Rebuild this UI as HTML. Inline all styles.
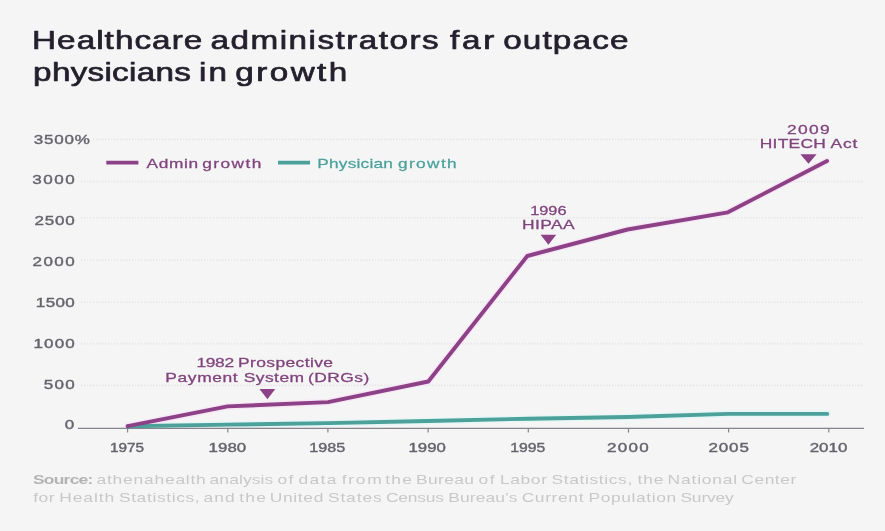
<!DOCTYPE html>
<html lang="en">
<head>
<meta charset="utf-8">
<title>Healthcare administrators far outpace physicians in growth</title>
<style>
html,body{margin:0;padding:0;background:#f5f5f6;}
body{width:885px;height:531px;overflow:hidden;font-family:"Liberation Sans",sans-serif;}
svg{display:block;}
text{font-family:"Liberation Sans",sans-serif;white-space:pre;}
.t{stroke:#231f2d;stroke-width:.68px;stroke-linejoin:round;}
.a{stroke:#66636d;stroke-width:.4px;}
.lp{stroke:#82447e;stroke-width:.3px;}
.lt{stroke:#4ca19b;stroke-width:.25px;}
</style>
</head>
<body>
<svg width="885" height="531" viewBox="0 0 885 531" role="img" aria-label="Healthcare administrators far outpace physicians in growth">
<rect width="885" height="531" fill="#f5f5f6"/>
<text class="t" transform="translate(0 48.9) scale(1.2800 1)" font-size="26" fill="#231f2d"><tspan x="25.03" letter-spacing="0.81">Healthcare</tspan> <tspan x="164.52" letter-spacing="1.15">administrators</tspan> <tspan x="351.63" letter-spacing="2.09">far</tspan> <tspan x="393.1" letter-spacing="0.89">outpace</tspan></text>
<text class="t" transform="translate(0 80.6) scale(1.2800 1)" font-size="26" fill="#231f2d"><tspan x="25.88" letter-spacing="0.2">physicians</tspan> <tspan x="155.42" letter-spacing="1.77">in</tspan> <tspan x="183.88" letter-spacing="1.87">growth</tspan></text>
<line x1="93" y1="139.4" x2="759" y2="139.4" stroke="#e5e5e7" stroke-width="1.6" stroke-dasharray="1.3 1.7"/>
<line x1="81" y1="181.6" x2="864" y2="181.6" stroke="#e5e5e7" stroke-width="1.6" stroke-dasharray="1.3 1.7"/>
<line x1="81" y1="217.7" x2="864" y2="217.7" stroke="#e5e5e7" stroke-width="1.6" stroke-dasharray="1.3 1.7"/>
<line x1="81" y1="260.3" x2="864" y2="260.3" stroke="#e5e5e7" stroke-width="1.6" stroke-dasharray="1.3 1.7"/>
<line x1="81" y1="302.2" x2="864" y2="302.2" stroke="#e5e5e7" stroke-width="1.6" stroke-dasharray="1.3 1.7"/>
<line x1="81" y1="343.6" x2="864" y2="343.6" stroke="#e5e5e7" stroke-width="1.6" stroke-dasharray="1.3 1.7"/>
<line x1="81" y1="385.4" x2="864" y2="385.4" stroke="#e5e5e7" stroke-width="1.6" stroke-dasharray="1.3 1.7"/>
<text class="a" transform="translate(0 143.9) scale(1.3000 1)" font-size="13.1" fill="#66636d"><tspan x="25.89" letter-spacing="0.63">3500%</tspan></text>
<text class="a" transform="translate(0 184.4) scale(1.3000 1)" font-size="13.1" fill="#66636d"><tspan x="24.74" letter-spacing="1.21">3000</tspan></text>
<text class="a" transform="translate(0 225) scale(1.3000 1)" font-size="13.1" fill="#66636d"><tspan x="26.5" letter-spacing="0.63">2500</tspan></text>
<text class="a" transform="translate(0 266.2) scale(1.3000 1)" font-size="13.1" fill="#66636d"><tspan x="24.96" letter-spacing="1.14">2000</tspan></text>
<text class="a" transform="translate(0 307) scale(1.3000 1)" font-size="13.1" fill="#66636d"><tspan x="27.56" letter-spacing="0.27">1500</tspan></text>
<text class="a" transform="translate(0 348) scale(1.3000 1)" font-size="13.1" fill="#66636d"><tspan x="25.79" letter-spacing="0.86">1000</tspan></text>
<text class="a" transform="translate(0 388.6) scale(1.3000 1)" font-size="13.1" fill="#66636d"><tspan x="33.71" letter-spacing="0.97">500</tspan></text>
<text class="a" transform="translate(0 429.3) scale(1.3000 1)" font-size="13.1" fill="#66636d"><tspan x="49.74">0</tspan></text>
<polyline points="127.7,426.2 228,424.6 328,423.1 428,421 528,418.7 628,417 728,413.9 827.3,413.9" fill="none" stroke="#e4f6f5" stroke-width="6.6" stroke-linecap="round" stroke-linejoin="round"/>
<polyline points="127.7,426.2 227.6,406.4 328,402.1 428.3,381.5 527.3,256 627.5,229.5 727.9,212.3 827,161" fill="none" stroke="#f7e6f5" stroke-width="6.6" stroke-linecap="round" stroke-linejoin="round"/>
<line x1="78" y1="428.4" x2="864" y2="428.4" stroke="#86838b" stroke-width="1.2"/>
<line x1="127.6" y1="428" x2="127.6" y2="432.6" stroke="#86838b" stroke-width="1.2"/>
<line x1="227.8" y1="428" x2="227.8" y2="432.6" stroke="#86838b" stroke-width="1.2"/>
<line x1="327.9" y1="428" x2="327.9" y2="432.6" stroke="#86838b" stroke-width="1.2"/>
<line x1="428.1" y1="428" x2="428.1" y2="432.6" stroke="#86838b" stroke-width="1.2"/>
<line x1="528.3" y1="428" x2="528.3" y2="432.6" stroke="#86838b" stroke-width="1.2"/>
<line x1="628.5" y1="428" x2="628.5" y2="432.6" stroke="#86838b" stroke-width="1.2"/>
<line x1="728.6" y1="428" x2="728.6" y2="432.6" stroke="#86838b" stroke-width="1.2"/>
<line x1="828.8" y1="428" x2="828.8" y2="432.6" stroke="#86838b" stroke-width="1.2"/>
<text class="a" transform="translate(0 451.8) scale(1.1736 1)" font-size="13.1" fill="#66636d"><tspan x="93.69">1975</tspan></text>
<text class="a" transform="translate(0 451.8) scale(1.2879 1)" font-size="13.1" fill="#66636d"><tspan x="161.99">1980</tspan></text>
<text class="a" transform="translate(0 451.8) scale(1.2351 1)" font-size="13.1" fill="#66636d"><tspan x="250.49">1985</tspan></text>
<text class="a" transform="translate(0 451.8) scale(1.2807 1)" font-size="13.1" fill="#66636d"><tspan x="319">1990</tspan></text>
<text class="a" transform="translate(0 451.8) scale(1.2025 1)" font-size="13.1" fill="#66636d"><tspan x="424.37">1995</tspan></text>
<text class="a" transform="translate(0 451.8) scale(1.3000 1)" font-size="13.1" fill="#66636d"><tspan x="466.88" letter-spacing="0.98">2000</tspan></text>
<text class="a" transform="translate(0 451.8) scale(1.3000 1)" font-size="13.1" fill="#66636d"><tspan x="544.96" letter-spacing="0.66">2005</tspan></text>
<text class="a" transform="translate(0 451.8) scale(1.2907 1)" font-size="13.1" fill="#66636d"><tspan x="627.36">2010</tspan></text>
<polyline points="127.7,426.2 228,424.6 328,423.1 428,421 528,418.7 628,417 728,413.9 827.3,413.9" fill="none" stroke="#4ca19b" stroke-width="3.9" stroke-linecap="round" stroke-linejoin="round"/>
<polyline points="127.7,426.2 227.6,406.4 328,402.1 428.3,381.5 527.3,256 627.5,229.5 727.9,212.3 827,161" fill="none" stroke="#8d4187" stroke-width="3.9" stroke-linecap="round" stroke-linejoin="round"/>
<line x1="106.3" y1="162.7" x2="138.4" y2="162.7" stroke="#8d4187" stroke-width="3.7"/>
<text class="lp" transform="translate(0 167.7) scale(1.2700 1)" font-size="13.6" fill="#82447e"><tspan x="115.43" letter-spacing="0.5">Admin</tspan> <tspan x="159.3" letter-spacing="1.14">growth</tspan></text>
<line x1="278" y1="162.7" x2="310.1" y2="162.7" stroke="#4ca19b" stroke-width="3.7"/>
<text class="lt" transform="translate(0 167.7) scale(1.2700 1)" font-size="13.6" fill="#4ca19b"><tspan x="249.86" letter-spacing="0.17">Physician</tspan> <tspan x="313.31" letter-spacing="1.1">growth</tspan></text>
<text class="lp" transform="translate(0 366.9) scale(1.3000 1)" font-size="13.4" fill="#82447e"><tspan x="151.15" letter-spacing="-0.28">1982</tspan> <tspan x="183.16" letter-spacing="0.3">Prospective</tspan></text>
<text class="lp" transform="translate(0 381.6) scale(1.3000 1)" font-size="13.4" fill="#82447e"><tspan x="127.16" letter-spacing="0.47">Payment</tspan> <tspan x="187.47" letter-spacing="0.35">System</tspan> <tspan x="236.97" letter-spacing="0.35">(DRGs)</tspan></text>
<polygon points="259.5,389.1 275.29999999999995,389.1 267.4,399.3" fill="#8d4187"/>
<text class="lp" transform="translate(0 214.7) scale(1.2196 1)" font-size="13.4" fill="#82447e"><tspan x="434.73">1996</tspan></text>
<text class="lp" transform="translate(0 229.2) scale(1.3000 1)" font-size="13.4" fill="#82447e"><tspan x="401.62" letter-spacing="0.3">HIPAA</tspan></text>
<polygon points="540.6,234.7 556.1999999999999,234.7 548.4,244.7" fill="#8d4187"/>
<text class="lp" transform="translate(0 133.6) scale(1.3000 1)" font-size="13.4" fill="#82447e"><tspan x="605.48" letter-spacing="1.01">2009</tspan></text>
<text class="lp" transform="translate(0 147.8) scale(1.3000 1)" font-size="13.4" fill="#82447e"><tspan x="584.39" letter-spacing="0.21">HITECH</tspan> <tspan x="638.77" letter-spacing="0.7">Act</tspan></text>
<polygon points="800.4,154.2 816.6,154.2 808.5,163.7" fill="#8d4187"/>
<text class="s" transform="translate(0 484.4) scale(1.3400 1)" font-size="13" fill="#c8c8c8"><tspan x="24.57" letter-spacing="-0.55" font-weight="bold" fill="#b3b3b3">Source:</tspan> <tspan x="72.06" letter-spacing="0.58">athenahealth</tspan> <tspan x="156.39" letter-spacing="0.08">analysis</tspan> <tspan x="207.17" letter-spacing="0.93">of</tspan> <tspan x="222.69" letter-spacing="1.06">data</tspan> <tspan x="255.06" letter-spacing="1.27">from</tspan> <tspan x="287.57" letter-spacing="0.89">the</tspan> <tspan x="310.45" letter-spacing="0.27">Bureau</tspan> <tspan x="357.02" letter-spacing="1.31">of</tspan> <tspan x="373.21" letter-spacing="0.43">Labor</tspan> <tspan x="411.58" letter-spacing="0.47">Statistics,</tspan> <tspan x="475.78" letter-spacing="0.59">the</tspan> <tspan x="498.21" letter-spacing="0.61">National</tspan> <tspan x="553.23" letter-spacing="0.4">Center</tspan></text>
<text class="s" transform="translate(0 502) scale(1.3400 1)" font-size="13" fill="#c8c8c8"><tspan x="24.76" letter-spacing="0.43">for</tspan> <tspan x="44.26" letter-spacing="0.68">Health</tspan> <tspan x="88.74" letter-spacing="0.47">Statistics,</tspan> <tspan x="151.84" letter-spacing="0.78">and</tspan> <tspan x="178.46" letter-spacing="0.97">the</tspan> <tspan x="201.26" letter-spacing="0.5">United</tspan> <tspan x="244.71" letter-spacing="0.66">States</tspan> <tspan x="288.01" letter-spacing="-0.15">Census</tspan> <tspan x="334.56" letter-spacing="0.08">Bureau’s</tspan> <tspan x="389.28" letter-spacing="0.48">Current</tspan> <tspan x="439.18" letter-spacing="0.45">Population</tspan> <tspan x="507.77" letter-spacing="-0.12">Survey</tspan></text>
</svg>
</body>
</html>
